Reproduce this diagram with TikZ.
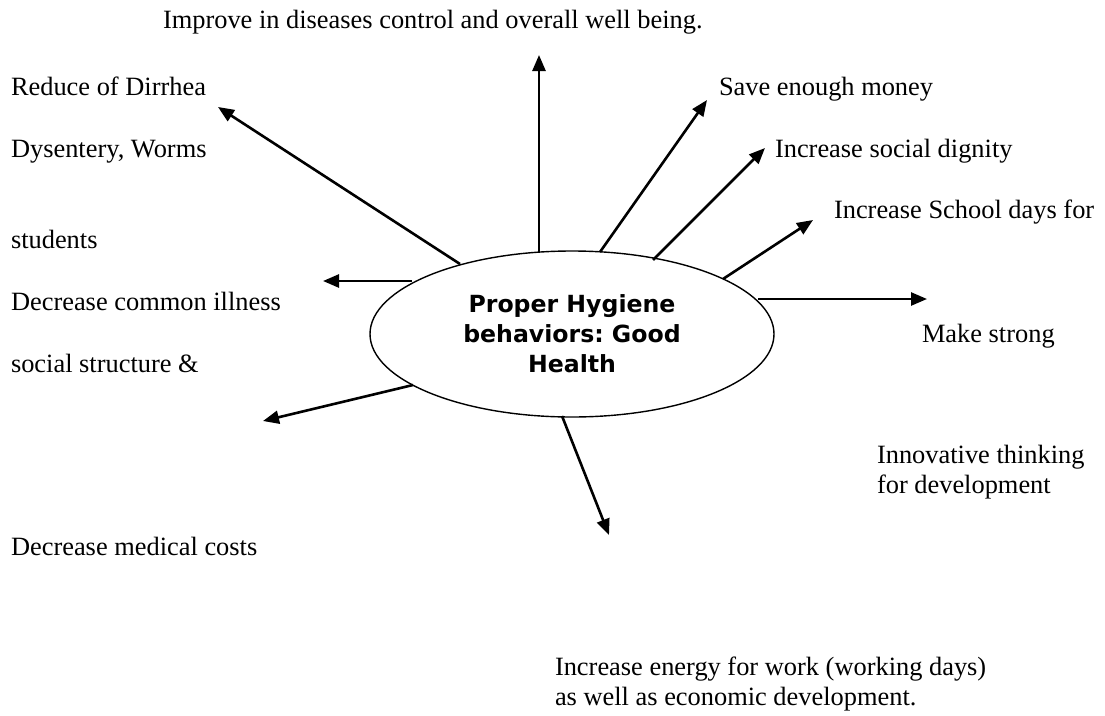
\documentclass[tikz,border=0pt]{standalone}
\usepackage{fontspec}
\setmainfont{Liberation Serif}
\newfontfamily\hubfont{DejaVu Sans}
\usetikzlibrary{arrows.meta,shapes.geometric}
\frenchspacing
\tikzset{
  lbl/.style={anchor=base west, inner sep=0pt, outer sep=0pt, font=\fontsize{26.4}{30}\selectfont, align=left},
  hubnode/.style={draw, ellipse, line width=1.4pt, minimum width=404pt, minimum height=166pt, inner sep=0pt,
                  font=\hubfont\bfseries\fontsize{23.6}{30}\selectfont, align=center},
  arr/.style={line width=2.6pt, -{Triangle[length=16pt,width=13pt]}}
}
\begin{document}
\begin{tikzpicture}[x=1pt,y=-1pt]
\useasboundingbox (0,0) rectangle (1105,715);
\fill[white] (0,0) rectangle (1105,715);

% hub
\node[hubnode] (hub) at (572,334) {Proper Hygiene\\behaviors: Good\\Health};

% labels (multi-line nodes: base anchor is the baseline of the last line)
\node[lbl] (t1) at (163,28) {Improve in diseases control and overall well being.};
\node[lbl] (l1) at (11,95) {Reduce of Dirrhea};
\node[lbl] (l2) at (11,157) {Dysentery, Worms};
\node[lbl] (l3) at (11,248) {students};
\node[lbl] (l4) at (11,310) {Decrease common illness};
\node[lbl] (l5) at (11,372) {social structure \&};
\node[lbl] (l6) at (11,555) {Decrease medical costs};
\node[lbl] (r1) at (719,95) {Save enough money};
\node[lbl] (r2) at (775,157) {Increase social dignity};
\node[lbl] (r3) at (834,218) {Increase School days for};
\node[lbl] (r4) at (922,342) {Make strong};
\node[lbl] (r5) at (877,493) {Innovative thinking\\for development};
\node[lbl] (b1) at (555,705) {Increase energy for work (working days)\\as well as economic development.};

% arrow end points
\coordinate (s1) at (539,252); \coordinate (e1) at (539,55);
\coordinate (s2) at (460,264); \coordinate (e2) at (218,107);
\coordinate (s3) at (412,281); \coordinate (e3) at (323,281);
\coordinate (s4) at (413,385); \coordinate (e4) at (263,421);
\coordinate (s5) at (562,416); \coordinate (e5) at (609,535);
\coordinate (s6) at (600,252); \coordinate (e6) at (707,100);
\coordinate (s7) at (653,260); \coordinate (e7) at (765,148);
\coordinate (s8) at (723,279); \coordinate (e8) at (813,220);
\coordinate (s9) at (758,299); \coordinate (e9) at (927,299);

\foreach \i in {1,...,9} { \draw[arr] (s\i) -- (e\i); }
\end{tikzpicture}
\end{document}
